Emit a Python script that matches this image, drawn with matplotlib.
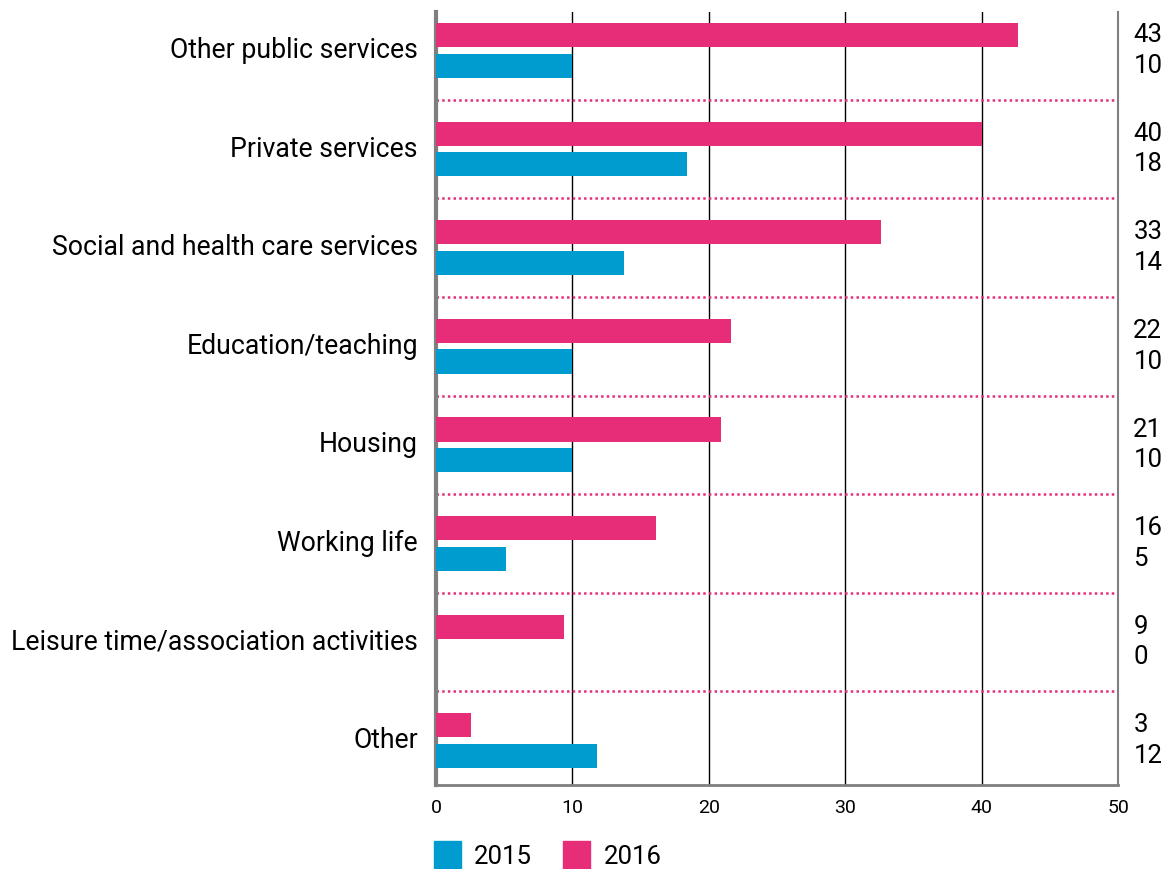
import numpy as np
import matplotlib.pyplot as plt
from matplotlib.patches import Patch
from matplotlib.transforms import blended_transform_factory

# share of responses by sector, top to bottom
categories = ['Other public services', 'Private services',
              'Social and health care services', 'Education/teaching',
              'Housing', 'Working life',
              'Leisure time/association activities', 'Other']
vals_2016 = [42.7, 40.0, 32.6, 21.6, 20.9, 16.1, 9.4, 2.6]
vals_2015 = [10.0, 18.4, 13.8, 10.0, 10.0, 5.1, 0.0, 11.8]
xticks = [0, 10, 20, 30, 40, 50]

PINK = '#e72d78'
BLUE = '#009cd0'
GREY = '#7f7f7f'
FS = 18.5

plt.rcParams['font.family'] = ['Roboto', 'DejaVu Sans']

fig = plt.figure(figsize=(11.65, 8.69), dpi=100)
ax = fig.add_axes([0.3742, 0.0967, 0.5855, 0.8895])

y = np.arange(len(categories))
h = 0.245
off = 0.155
ax.barh(y - off, vals_2016, height=h, color=PINK, zorder=3)
ax.barh(y + off, vals_2015, height=h, color=BLUE, zorder=3)

# dotted separators between the groups
for yy in y[:-1] + 0.5:
    ax.plot([0, 50], [yy, yy], color=PINK, lw=1.8, ls=(0, (1, 1.27)), zorder=2)

ax.set_xlim(0, 50)
ax.set_ylim(7.45, -0.39)
ax.set_xticks(xticks)
ax.set_xticklabels([str(t) for t in xticks], fontsize=14)
ax.tick_params(axis='x', length=0, pad=10)
ax.set_yticks(y - 0.03)
ax.set_yticklabels(categories, fontsize=19.2)
ax.tick_params(axis='y', length=0, pad=13)

for t in xticks[1:-1]:
    ax.axvline(t, color='black', lw=1, zorder=1)

ax.spines['top'].set_visible(False)
ax.spines['left'].set_color(GREY)
ax.spines['left'].set_linewidth(3)
ax.spines['bottom'].set_color(GREY)
ax.spines['bottom'].set_linewidth(2)
ax.spines['right'].set_color(GREY)
ax.spines['right'].set_linewidth(1.5)

# value labels to the right of the plot area
tr = blended_transform_factory(ax.transAxes, ax.transData)
for i in range(len(categories)):
    ax.annotate(f'{vals_2016[i]:.0f}', xy=(1, y[i] - off), xycoords=tr,
                xytext=(11, 0), textcoords='offset points',
                ha='left', va='center', fontsize=FS)
    ax.annotate(f'{vals_2015[i]:.0f}', xy=(1, y[i] + off), xycoords=tr,
                xytext=(11, 0), textcoords='offset points',
                ha='left', va='center', fontsize=FS)

handles = [Patch(color=BLUE, label='2015'), Patch(color=PINK, label='2016')]
fig.legend(handles=handles, loc='lower left', bbox_to_anchor=(434 / 1165, 0.0),
           ncol=2, frameon=False, fontsize=FS, borderpad=0, borderaxespad=0,
           handlelength=1.05, handleheight=1.3, handletextpad=0.52,
           columnspacing=1.2)

plt.savefig('out.png', dpi=100)
